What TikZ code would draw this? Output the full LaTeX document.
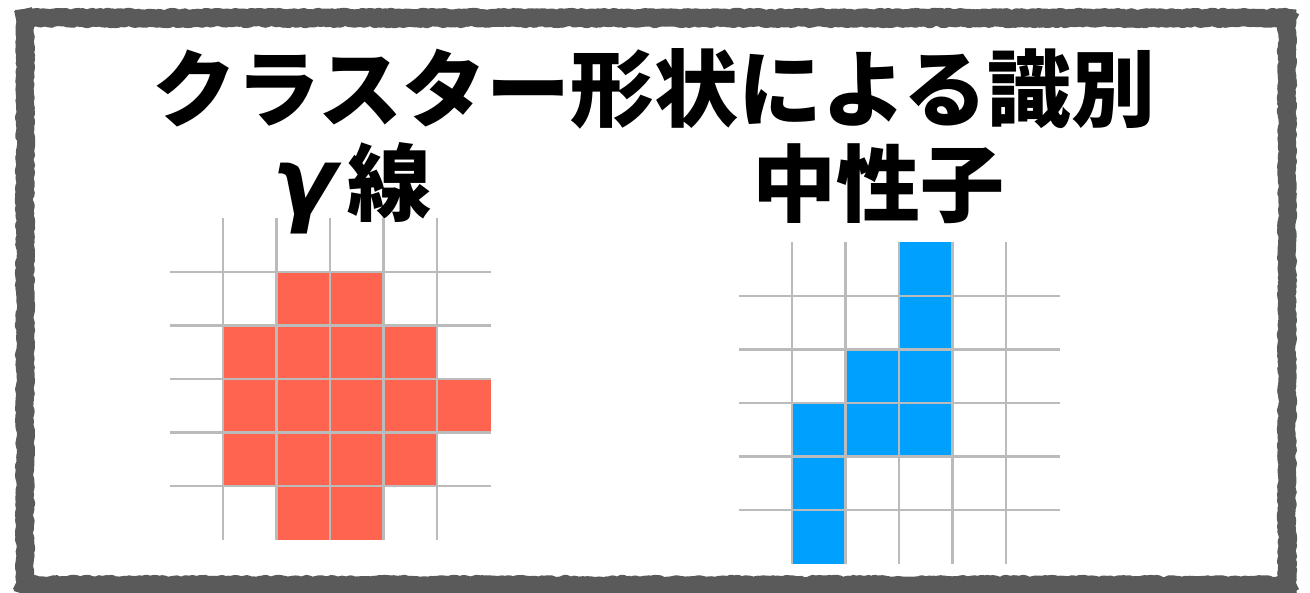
\documentclass[tikz,border=0pt]{standalone}
\usepackage{fontspec}
\usetikzlibrary{decorations.pathmorphing}
\newfontfamily\jp{Noto Sans CJK JP}
\newfontfamily\gk{DejaVu Sans}
\definecolor{framegray}{HTML}{5A5A5A}
\definecolor{gridgray}{HTML}{BBBBBB}
\definecolor{gammared}{HTML}{FF6450}
\definecolor{neutronblue}{HTML}{00A0FF}
\tikzset{
  frame/.style={draw=framegray, line width=18pt, line join=round, line cap=rect, decorate,
    decoration={random steps, segment length=2.5pt, amplitude=1.2pt}},
  gridline/.style={draw=gridgray, line width=2.6pt},
  bigtext/.style={font=\jp\bfseries\fontsize{84}{90}\selectfont, inner sep=0pt, anchor=base},
}
\begin{document}
\begin{tikzpicture}[x=1pt,y=-1pt]
\useasboundingbox (0,0) rectangle (1310,593);
\fill[white] (0,0) rectangle (1310,593);
\pgfmathsetseed{7}
\coordinate (c1) at (25,18);
\coordinate (c2) at (1287,18);
\coordinate (c3) at (1287,585);
\coordinate (c4) at (25,585);
\draw[frame] (c1) -- (c2);
\draw[frame] (c2) -- (c3);
\draw[frame] (c3) -- (c4);
\draw[frame] (c4) -- (c1);
% title and labels
\node[bigtext] (title) at (654,121) {クラスター形状による識別};
\node[bigtext] (gamma) at (352,215) {{\gk\bfseries\itshape\fontsize{94}{96}\selectfont γ}\kern10pt 線};
\node[bigtext] (neutron) at (878,216) {中性子};
% gamma cluster
\begin{scope}[shift={(169.5,218.5)}]
  \foreach \c/\r in {2/1,3/1,1/2,2/2,3/2,4/2,1/3,2/3,3/3,4/3,5/3,1/4,2/4,3/4,4/4,2/5,3/5}
    \fill[gammared] (\c*53.5,\r*53.5) rectangle ++(53.5,53.5);
  \foreach \i in {1,...,5} {
    \draw[gridline] (\i*53.5,0) -- (\i*53.5,321);
    \draw[gridline] (0,\i*53.5) -- (321,\i*53.5);
  }
\end{scope}
% neutron cluster
\begin{scope}[shift={(738.5,242.5)}]
  \foreach \c/\r in {3/0,3/1,2/2,3/2,1/3,2/3,3/3,1/4,1/5}
    \fill[neutronblue] (\c*53.5,\r*53.5) rectangle ++(53.5,53.5);
  \foreach \i in {1,...,5} {
    \draw[gridline] (\i*53.5,0) -- (\i*53.5,321);
    \draw[gridline] (0,\i*53.5) -- (321,\i*53.5);
  }
\end{scope}
\end{tikzpicture}
\end{document}
